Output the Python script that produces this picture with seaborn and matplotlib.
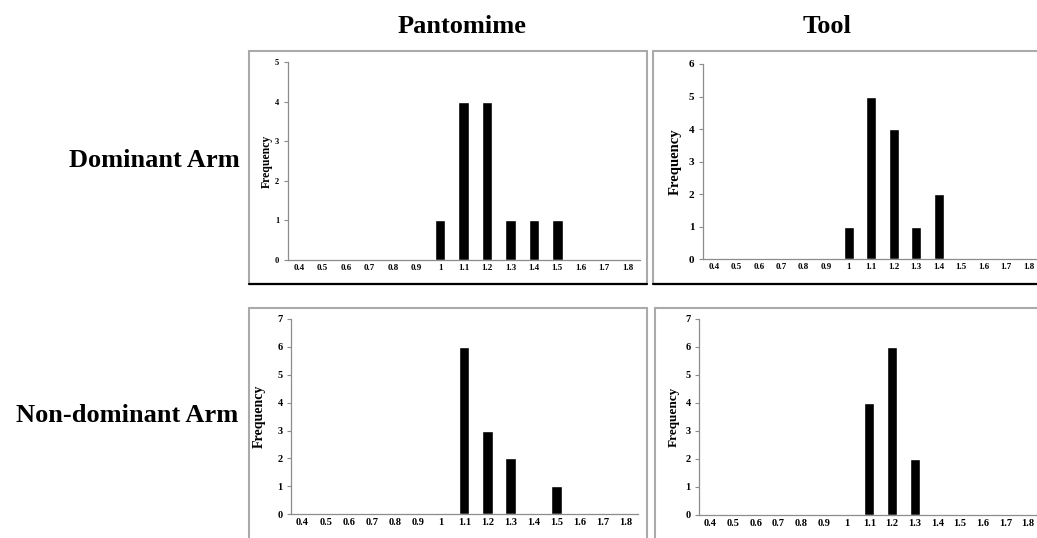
import numpy as np
import matplotlib
matplotlib.use("Agg")
import matplotlib.pyplot as plt
from matplotlib.patches import Rectangle
from matplotlib.lines import Line2D
import seaborn as sns

# ---- data ----
categories = ["0.4", "0.5", "0.6", "0.7", "0.8", "0.9", "1",
              "1.1", "1.2", "1.3", "1.4", "1.5", "1.6", "1.7", "1.8"]
pantomime_dominant = [0, 0, 0, 0, 0, 0, 1, 4, 4, 1, 1, 1, 0, 0, 0]
tool_dominant = [0, 0, 0, 0, 0, 0, 1, 5, 4, 1, 2, 0, 0, 0, 0]
pantomime_nondominant = [0, 0, 0, 0, 0, 0, 0, 6, 3, 2, 0, 1, 0, 0, 0]
tool_nondominant = [0, 0, 0, 0, 0, 0, 0, 4, 6, 2, 0, 0, 0, 0, 0]
col_titles = ["Pantomime", "Tool"]
row_titles = ["Dominant Arm", "Non-dominant Arm"]
y_max = [5, 6, 7, 7]

sns.set_style("white")
plt.rcParams["font.family"] = ["Liberation Serif", "DejaVu Serif"]
plt.rcParams["text.color"] = "black"
plt.rcParams["axes.labelcolor"] = "black"
plt.rcParams["xtick.color"] = "black"
plt.rcParams["ytick.color"] = "black"

W, H = 1037, 538
fig = plt.figure(figsize=(W / 100, H / 100), dpi=100)


def fx(px):
    return px / W


def fy(py):
    return 1 - py / H


# panel borders (chart frames)
border_col = "#aaaaaa"
frames = [(249, 51, 647, 284), (653, 51, 1045, 284),
          (249, 308, 647, 545), (655, 308, 1045, 545)]
for i, (x0, y0, x1, y1) in enumerate(frames):
    fig.add_artist(Rectangle((fx(x0), fy(y1)), fx(x1) - fx(x0), fy(y0) - fy(y1),
                             transform=fig.transFigure, fill=False,
                             edgecolor=border_col, linewidth=1.5))
    if i < 2:
        fig.add_artist(Line2D([fx(x0), fx(x1)], [fy(y1), fy(y1)],
                              transform=fig.transFigure, color="black", linewidth=1.6))

# axes: (left px, right px, top px, bottom px)
axes_px = [(287.5, 639.5, 62, 260), (702.5, 1040, 64, 259.3),
           (291, 637.5, 319, 514.3), (699, 1039.5, 319, 515)]
series = [pantomime_dominant, tool_dominant, pantomime_nondominant, tool_nondominant]
ylabel_off = [15, 21, 25, 19]
ylabel_fs = [8.5, 10.5, 10, 9.5]
ytick_fs = [6, 8, 7.5, 7.5]
xtick_fs = [6.5, 6.5, 7.5, 7.5]
axis_col = "#8c8c8c"

for i, (l, r, t, b) in enumerate(axes_px):
    ax = fig.add_axes([fx(l), fy(b), fx(r) - fx(l), fy(t) - fy(b)])
    sns.barplot(x=categories, y=series[i], order=categories, color="black",
                saturation=1, width=0.45, ax=ax)
    ax.set_xlim(-0.5, 14.5)
    ax.set_ylim(0, y_max[i])
    ax.set_yticks(range(0, y_max[i] + 1))
    ax.set_yticklabels([str(v) for v in range(0, y_max[i] + 1)],
                       fontsize=ytick_fs[i], fontweight="bold")
    ax.set_xticks(range(len(categories)))
    ax.set_xticklabels(categories, fontsize=xtick_fs[i], fontweight="bold")
    ax.set_xticks(np.arange(-0.5, 15, 1), minor=True)
    ax.tick_params(axis="x", which="major", length=0, pad=3)
    ax.tick_params(axis="x", which="minor", length=3, color=axis_col, width=0.8, direction="out")
    ax.tick_params(axis="y", length=3, color=axis_col, width=0.8, direction="out", pad=3, left=True)
    for s in ["top", "right"]:
        ax.spines[s].set_visible(False)
    for s in ["left", "bottom"]:
        ax.spines[s].set_color(axis_col)
        ax.spines[s].set_linewidth(0.9)
    ax.set_ylabel("Frequency", fontsize=ylabel_fs[i], fontweight="bold")
    ax.yaxis.set_label_coords(-ylabel_off[i] / (r - l), 0.5)
    ax.set_xlabel("")
    ax.patch.set_alpha(0)

# column titles
fig.text(fx(462), fy(33), col_titles[0], ha="center", va="baseline",
         fontsize=19, fontweight="bold")
fig.text(fx(827), fy(33), col_titles[1], ha="center", va="baseline",
         fontsize=19, fontweight="bold")
# row titles
fig.text(fx(240), fy(167), row_titles[0], ha="right", va="baseline",
         fontsize=19, fontweight="bold")
fig.text(fx(238), fy(421.5), row_titles[1], ha="right", va="baseline",
         fontsize=19, fontweight="bold")

fig.savefig("out.png", dpi=100, facecolor="white")
